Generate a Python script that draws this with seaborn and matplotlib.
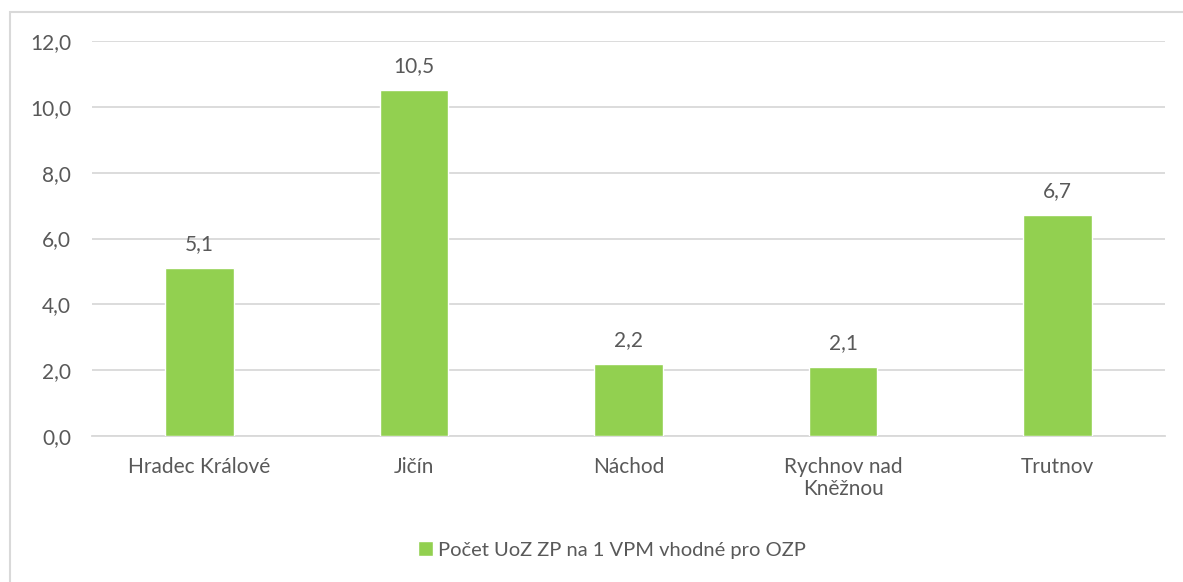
import matplotlib
matplotlib.use('Agg')
import matplotlib.pyplot as plt
import seaborn as sns
import pandas as pd
from matplotlib.patches import Rectangle, Patch

# data
okresy = ['Hradec Králové', 'Jičín', 'Náchod', 'Rychnov nad\nKněžnou', 'Trutnov']
hodnoty = [5.1, 10.5, 2.2, 2.1, 6.7]
serie = 'Počet UoZ ZP na 1 VPM vhodné pro OZP'

df = pd.DataFrame({'Okres': okresy, 'Hodnota': hodnoty})

sns.set_style('white')
plt.rcParams['font.family'] = ['Lato', 'DejaVu Sans']

zelena = '#92D050'
seda = '#595959'
fs = 15

fig = plt.figure(figsize=(11.83, 5.82), dpi=100)
ax = fig.add_axes([92/1183, 1 - 436/582, (1165-92)/1183, 395/582])

sns.barplot(data=df, x='Okres', y='Hodnota', color=zelena, width=0.32,
            saturation=1, ax=ax, zorder=3)

ax.set_ylim(0, 12)
ax.set_xlim(-0.5, len(okresy) - 0.5)
ax.set_yticks(range(0, 13, 2))
ax.set_yticklabels([f'{v:.1f}'.replace('.', ',') for v in range(0, 13, 2)])
ax.grid(axis='y', color='#D9D9D9', linewidth=1.3, zorder=0)
ax.set_axisbelow(True)
for s in ['top', 'right', 'left']:
    ax.spines[s].set_visible(False)
ax.spines['bottom'].set_color('#D9D9D9')
ax.spines['bottom'].set_linewidth(1.3)
ax.tick_params(axis='both', length=0, labelsize=fs, colors=seda)
ax.tick_params(axis='x', pad=15)
ax.tick_params(axis='y', pad=15)
for t in ax.get_xticklabels():
    t.set_linespacing(1.15)
ax.set_xlabel('')
ax.set_ylabel('')

for i, v in enumerate(hodnoty):
    ax.annotate(f'{v:.1f}'.replace('.', ','), (i, v), xytext=(0, 10),
                textcoords='offset points', ha='center', va='bottom',
                fontsize=fs, color=seda)

leg = fig.legend(handles=[Patch(facecolor=zelena, label=serie)],
                 loc='center', bbox_to_anchor=(612/1183, 1 - 550/582),
                 frameon=False, fontsize=14.5, handlelength=0.75, handleheight=0.75,
                 handletextpad=0.25)
for t in leg.get_texts():
    t.set_color(seda)

# ramecek grafu
fig.add_artist(Rectangle((10/1183, -0.1), 1.2, 1 - 12/582 + 0.1,
                         transform=fig.transFigure, fill=False,
                         edgecolor='#D9D9D9', linewidth=1.5))

fig.savefig('out.png', dpi=100)
